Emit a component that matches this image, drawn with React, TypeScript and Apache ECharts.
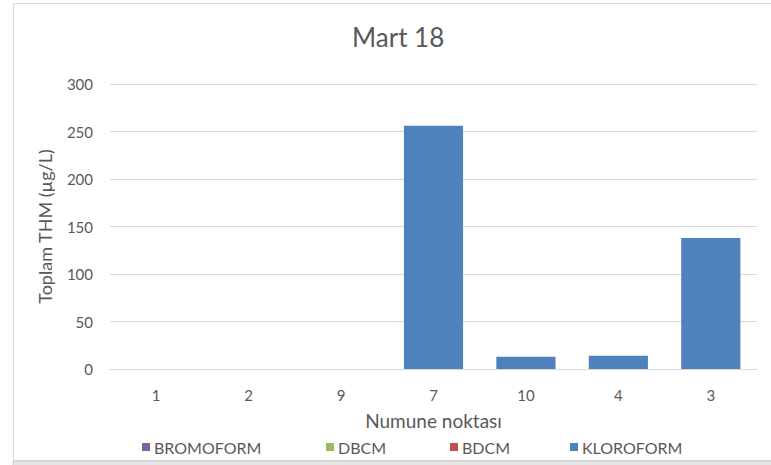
import React, { useEffect, useRef } from "react";
import * as echarts from "echarts";

const categories = ["1", "2", "9", "7", "10", "4", "3"];
const kloroform = [0, 0, 0, 256, 13, 14, 138];
const bdcm = [0, 0, 0, 0, 0, 0, 0];
const dbcm = [0, 0, 0, 0, 0, 0, 0];
const bromoform = [0, 0, 0, 0, 0, 0, 0];
const yTicks = { min: 0, max: 300, interval: 50 };

const FONT = "Lato, 'Open Sans', sans-serif";
const TXT = "#595959";

export default function App() {
  const ref = useRef<HTMLDivElement>(null);
  useEffect(() => {
    if (!ref.current) return;
    const chart = echarts.init(ref.current, undefined, { renderer: "svg" });
    const legendItem = (name: string, left: number) => ({
      data: [name],
      left,
      top: 439,
      icon: "rect",
      itemWidth: 8,
      itemHeight: 8,
      itemGap: 4,
      padding: 0,
      selectedMode: false,
      textStyle: { color: TXT, fontSize: 16, fontFamily: FONT, padding: [0, 0, 0, -1] },
    });
    chart.setOption({
      animation: false,
      backgroundColor: "#ffffff",
      textStyle: { fontFamily: FONT },
      title: {
        text: "Mart 18",
        left: 352,
        top: 24,
        padding: 0,
        textStyle: { color: TXT, fontSize: 26, fontWeight: "normal", fontFamily: FONT },
      },
      graphic: [
        {
          type: "rect",
          shape: { x: 13.5, y: 3.5, width: 770, height: 457 },
          style: { fill: "none", stroke: "#d9d9d9", lineWidth: 1 },
          silent: true,
        },
        {
          type: "rect",
          shape: { x: 13, y: 461, width: 760, height: 5 },
          style: { fill: "#e6e6e6", stroke: "#cfcfcf", lineWidth: 1 },
          silent: true,
        },
      ],
      legend: [
        legendItem("BROMOFORM", 142),
        legendItem("DBCM", 326),
        legendItem("BDCM", 450),
        legendItem("KLOROFORM", 570),
      ],
      grid: { left: 110, right: 14, top: 84, bottom: 96 },
      xAxis: {
        type: "category",
        data: categories,
        axisTick: { show: false },
        axisLine: { lineStyle: { color: "#d9d9d9" } },
        axisLabel: { color: TXT, fontSize: 15, fontFamily: FONT, margin: 18 },
        name: "Numune noktası",
        nameLocation: "middle",
        nameGap: 42,
        nameTextStyle: { color: TXT, fontSize: 19, fontFamily: FONT },
      },
      yAxis: {
        type: "value",
        min: yTicks.min,
        max: yTicks.max,
        interval: yTicks.interval,
        axisLine: { show: false },
        axisTick: { show: false },
        splitLine: { lineStyle: { color: "#d9d9d9" } },
        axisLabel: { color: TXT, fontSize: 15, fontFamily: FONT, margin: 17 },
        name: "Toplam THM (µg/L)",
        nameLocation: "middle",
        nameRotate: 90,
        nameGap: 56,
        nameTextStyle: { color: TXT, fontSize: 18, fontFamily: FONT },
      },
      series: [
        { name: "KLOROFORM", type: "bar", stack: "thm", data: kloroform, itemStyle: { color: "#4F81BD" }, barCategoryGap: "36%" },
        { name: "BDCM", type: "bar", stack: "thm", data: bdcm, itemStyle: { color: "#C0504D" } },
        { name: "DBCM", type: "bar", stack: "thm", data: dbcm, itemStyle: { color: "#9BBB59" } },
        { name: "BROMOFORM", type: "bar", stack: "thm", data: bromoform, itemStyle: { color: "#8064A2" } },
      ],
    });
    return () => chart.dispose();
  }, []);
  return (
    <div
      ref={ref}
      style={{ position: "absolute", left: 0, top: 0, width: 771, height: 465 }}
    />
  );
}
